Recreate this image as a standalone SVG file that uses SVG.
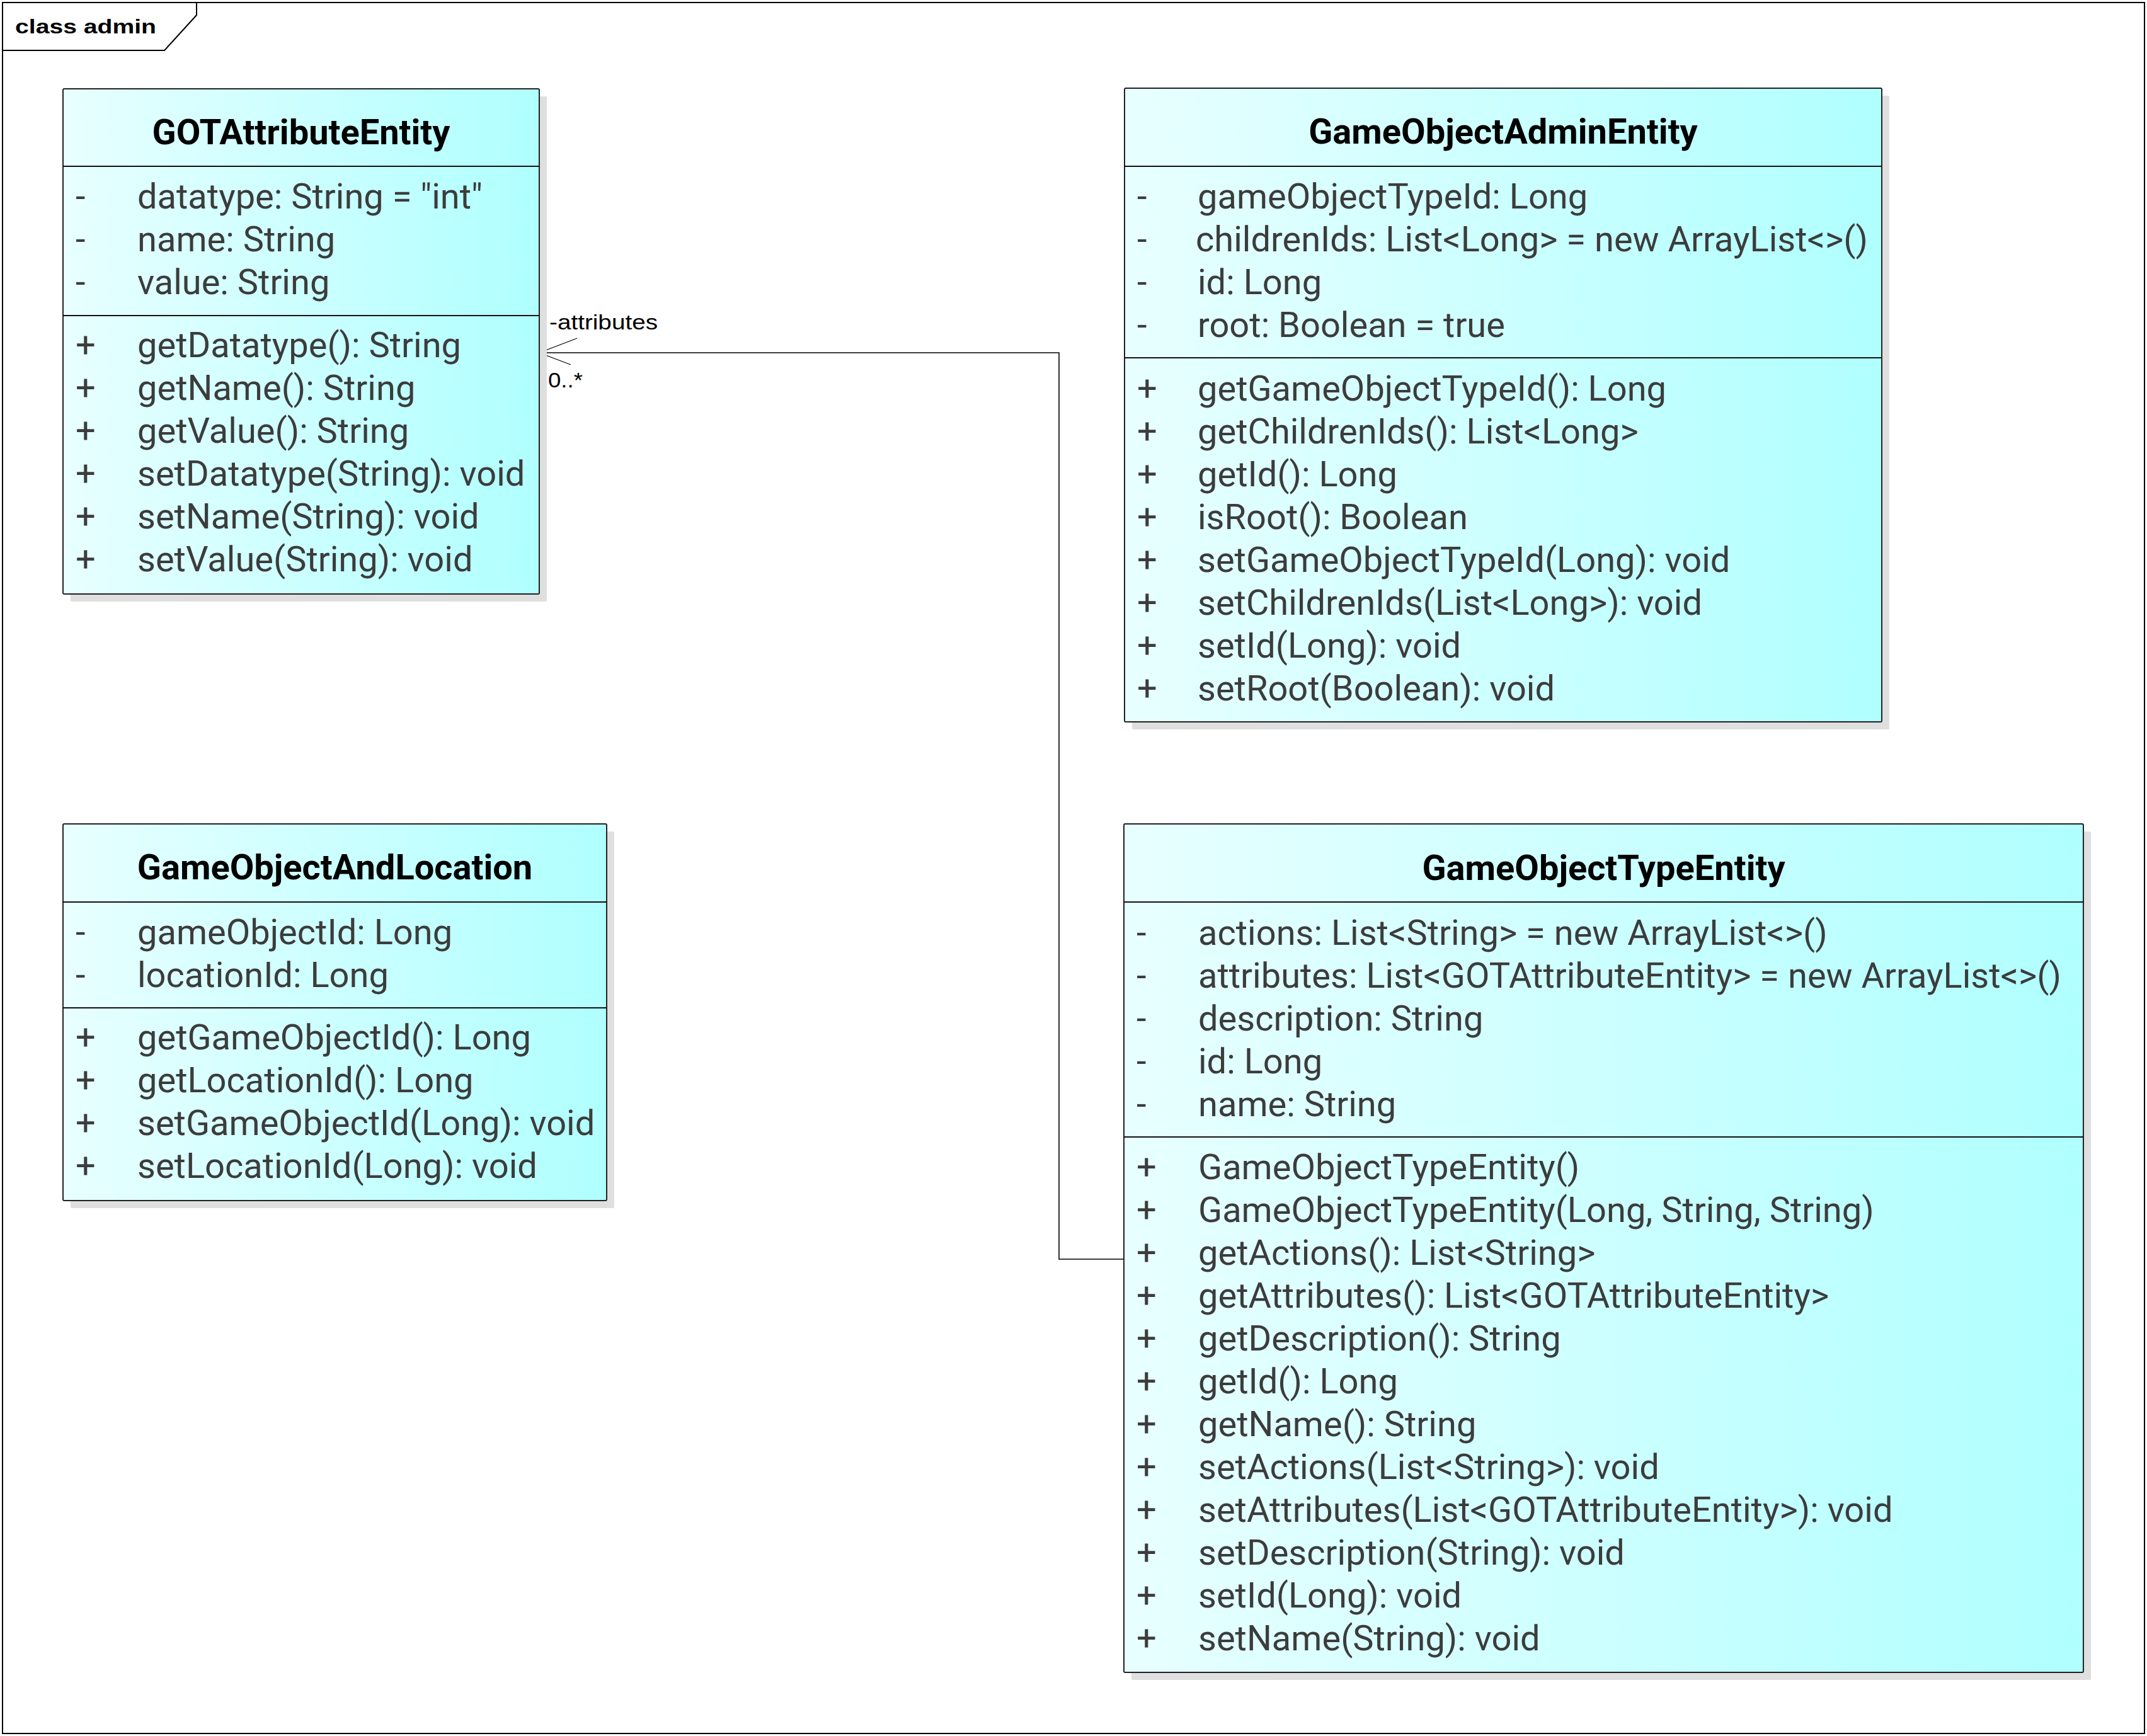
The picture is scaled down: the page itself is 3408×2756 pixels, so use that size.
<svg xmlns="http://www.w3.org/2000/svg" width="3408" height="2756" viewBox="0 0 3408 2756">
<defs>
<linearGradient id="fill" x1="0" y1="0" x2="1" y2="0">
<stop offset="0" stop-color="#e8ffff"/>
<stop offset="1" stop-color="#b0ffff"/>
</linearGradient>
<style>
.frame{fill:none;stroke:#000;stroke-width:2}
.shadow{fill:#dfdfdf}
.box{fill:url(#fill);stroke:#222;stroke-width:2}
.sep{stroke:#111;stroke-width:2}
.title{font-family:Roboto,"Liberation Sans",sans-serif;font-weight:bold;font-size:56px;fill:#000;text-anchor:middle}
.mem{font-family:Roboto,"Liberation Sans",sans-serif;font-size:56px;fill:#3c3c3c}
.lbl{font-family:"Liberation Sans",Arial,sans-serif;font-size:33px;fill:#000}
.conn{fill:none;stroke:#000;stroke-width:1.6}
.arrow{fill:none;stroke:#000;stroke-width:1.2}
</style>
</defs>
<rect width="3408" height="2756" fill="#fff"/>
<g id="frame">
<rect class="frame" x="4" y="4" width="3400" height="2748"/>
<path class="frame" d="M4,80 H261 L312,24 V4"/>
<text x="24" y="53" font-family="'Liberation Sans',Arial,sans-serif" font-weight="bold" font-size="32" textLength="224" lengthAdjust="spacingAndGlyphs">class admin</text>
</g>

<g id="connectors">
<polyline class="conn" points="1784,1999 1681,1999 1681,560 856,560"/>
<polyline class="arrow" points="916,537 856,560 906,579"/>
<text class="lbl" x="872" y="523" textLength="172" lengthAdjust="spacingAndGlyphs">-attributes</text>
<text class="lbl" x="870" y="615" textLength="55" lengthAdjust="spacingAndGlyphs">0..*</text>
</g>

<g id="GOTAttributeEntity">
<rect class="shadow" x="112" y="153" width="756" height="802" rx="2"/>
<rect class="box" x="100" y="141" width="756" height="802" rx="2"/>
<line class="sep" x1="100" y1="264" x2="856" y2="264"/>
<line class="sep" x1="100" y1="501" x2="856" y2="501"/>
<text class="title" x="478" y="229">GOTAttributeEntity</text>
<g class="mem">
<text x="120" y="331">-</text><text x="218" y="331">datatype: String = "int"</text>
<text x="120" y="399">-</text><text x="218" y="399">name: String</text>
<text x="120" y="467">-</text><text x="218" y="467">value: String</text>
<text x="120" y="567">+</text><text x="218" y="567">getDatatype(): String</text>
<text x="120" y="635">+</text><text x="218" y="635">getName(): String</text>
<text x="120" y="703">+</text><text x="218" y="703">getValue(): String</text>
<text x="120" y="771">+</text><text x="218" y="771">setDatatype(String): void</text>
<text x="120" y="839">+</text><text x="218" y="839">setName(String): void</text>
<text x="120" y="907">+</text><text x="218" y="907">setValue(String): void</text>
</g>
</g>

<g id="GameObjectAdminEntity">
<rect class="shadow" x="1797" y="152" width="1202" height="1006" rx="2"/>
<rect class="box" x="1785" y="140" width="1202" height="1006" rx="2"/>
<line class="sep" x1="1785" y1="264" x2="2987" y2="264"/>
<line class="sep" x1="1785" y1="568" x2="2987" y2="568"/>
<text class="title" x="2386" y="228">GameObjectAdminEntity</text>
<g class="mem">
<text x="1805" y="331">-</text><text x="1901" y="331">gameObjectTypeId: Long</text>
<text x="1805" y="399">-</text><text x="1898" y="399">childrenIds: List&lt;Long&gt; = new ArrayList&lt;&gt;()</text>
<text x="1805" y="467">-</text><text x="1901" y="467">id: Long</text>
<text x="1805" y="535">-</text><text x="1901" y="535">root: Boolean = true</text>
<text x="1805" y="636">+</text><text x="1901" y="636">getGameObjectTypeId(): Long</text>
<text x="1805" y="704">+</text><text x="1901" y="704">getChildrenIds(): List&lt;Long&gt;</text>
<text x="1805" y="772">+</text><text x="1901" y="772">getId(): Long</text>
<text x="1805" y="840">+</text><text x="1901" y="840">isRoot(): Boolean</text>
<text x="1805" y="908">+</text><text x="1901" y="908">setGameObjectTypeId(Long): void</text>
<text x="1805" y="976">+</text><text x="1901" y="976">setChildrenIds(List&lt;Long&gt;): void</text>
<text x="1805" y="1044">+</text><text x="1901" y="1044">setId(Long): void</text>
<text x="1805" y="1112">+</text><text x="1901" y="1112">setRoot(Boolean): void</text>
</g>
</g>

<g id="GameObjectAndLocation">
<rect class="shadow" x="112" y="1320" width="863" height="598" rx="2"/>
<rect class="box" x="100" y="1308" width="863" height="598" rx="2"/>
<line class="sep" x1="100" y1="1432" x2="963" y2="1432"/>
<line class="sep" x1="100" y1="1600" x2="963" y2="1600"/>
<text class="title" x="531.5" y="1396">GameObjectAndLocation</text>
<g class="mem">
<text x="120" y="1499">-</text><text x="218" y="1499">gameObjectId: Long</text>
<text x="120" y="1567">-</text><text x="218" y="1567">locationId: Long</text>
<text x="120" y="1666">+</text><text x="218" y="1666">getGameObjectId(): Long</text>
<text x="120" y="1734">+</text><text x="218" y="1734">getLocationId(): Long</text>
<text x="120" y="1802">+</text><text x="218" y="1802">setGameObjectId(Long): void</text>
<text x="120" y="1870">+</text><text x="218" y="1870">setLocationId(Long): void</text>
</g>
</g>

<g id="GameObjectTypeEntity">
<rect class="shadow" x="1796" y="1320" width="1523" height="1347" rx="2"/>
<rect class="box" x="1784" y="1308" width="1523" height="1347" rx="2"/>
<line class="sep" x1="1784" y1="1432" x2="3307" y2="1432"/>
<line class="sep" x1="1784" y1="1805" x2="3307" y2="1805"/>
<text class="title" x="2545.5" y="1397">GameObjectTypeEntity</text>
<g class="mem">
<text x="1804" y="1500">-</text><text x="1902" y="1500">actions: List&lt;String&gt; = new ArrayList&lt;&gt;()</text>
<text x="1804" y="1568">-</text><text x="1902" y="1568">attributes: List&lt;GOTAttributeEntity&gt; = new ArrayList&lt;&gt;()</text>
<text x="1804" y="1636">-</text><text x="1902" y="1636">description: String</text>
<text x="1804" y="1704">-</text><text x="1902" y="1704">id: Long</text>
<text x="1804" y="1772">-</text><text x="1902" y="1772">name: String</text>
<text x="1804" y="1872">+</text><text x="1902" y="1872">GameObjectTypeEntity()</text>
<text x="1804" y="1940">+</text><text x="1902" y="1940">GameObjectTypeEntity(Long, String, String)</text>
<text x="1804" y="2008">+</text><text x="1902" y="2008">getActions(): List&lt;String&gt;</text>
<text x="1804" y="2076">+</text><text x="1902" y="2076">getAttributes(): List&lt;GOTAttributeEntity&gt;</text>
<text x="1804" y="2144">+</text><text x="1902" y="2144">getDescription(): String</text>
<text x="1804" y="2212">+</text><text x="1902" y="2212">getId(): Long</text>
<text x="1804" y="2280">+</text><text x="1902" y="2280">getName(): String</text>
<text x="1804" y="2348">+</text><text x="1902" y="2348">setActions(List&lt;String&gt;): void</text>
<text x="1804" y="2416">+</text><text x="1902" y="2416">setAttributes(List&lt;GOTAttributeEntity&gt;): void</text>
<text x="1804" y="2484">+</text><text x="1902" y="2484">setDescription(String): void</text>
<text x="1804" y="2552">+</text><text x="1902" y="2552">setId(Long): void</text>
<text x="1804" y="2620">+</text><text x="1902" y="2620">setName(String): void</text>
</g>
</g>
</svg>
